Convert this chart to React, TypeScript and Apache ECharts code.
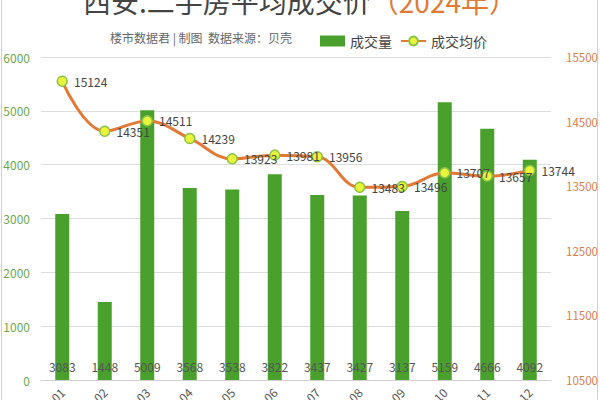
import React, { useEffect, useRef } from "react";
import * as echarts from "echarts";

const months = ["2024-01","2024-02","2024-03","2024-04","2024-05","2024-06","2024-07","2024-08","2024-09","2024-10","2024-11","2024-12"];
const volume = [3083, 1448, 5009, 3568, 3538, 3822, 3437, 3427, 3137, 5159, 4666, 4092];
const avgPrice = [15124, 14351, 14511, 14239, 13923, 13981, 13956, 13483, 13496, 13707, 13657, 13744];

const FONT = "'Noto Sans CJK SC', 'Noto Sans', sans-serif";

export default function App() {
  const ref = useRef<HTMLDivElement>(null);
  useEffect(() => {
    const chart = echarts.init(ref.current!, null, { renderer: "svg" });
    chart.setOption({
      animation: false,
      backgroundColor: "#fff",
      textStyle: { fontFamily: FONT },
      graphic: [
        { type: "rect", shape: { x: 1.5, y: -5, width: 596, height: 410 }, style: { fill: "none", stroke: "#d0d0d0", lineWidth: 1 }, silent: true },
        {
          type: "text", x: 300, y: -13,
          style: {
            text: "{a|西安.二手房平均成交价}{b|（2024年）}",
            align: "center", verticalAlign: "top",
            rich: {
              a: { fontSize: 28, fill: "#444", fontFamily: FONT },
              b: { fontSize: 28, fill: "#e07a36", fontFamily: FONT },
            },
          },
        },
        {
          type: "text", x: 110, y: 31,
          style: { text: "楼市数据君 | 制图  数据来源：贝壳", fontSize: 12, fill: "#666", fontFamily: FONT },
        },
      ],
      legend: {
        top: 29, left: 315, itemGap: 8, itemWidth: 25, itemHeight: 11,
        textStyle: { fontSize: 14, color: "#444", fontFamily: FONT },
        data: [
          { name: "成交量", icon: "rect" },
          { name: "成交均价" },
        ],
      },
      grid: { left: 41, right: 49, top: 57, bottom: 20, outerBoundsMode: "none", containLabel: false },
      xAxis: {
        type: "category",
        data: months,
        axisLine: { lineStyle: { color: "#d0d0d0" } },
        axisTick: { lineStyle: { color: "#d0d0d0" } },
        axisLabel: { rotate: 45, color: "#555", fontSize: 12, margin: 10 },
      },
      yAxis: [
        {
          type: "value", min: 0, max: 6000, interval: 1000,
          axisLabel: { color: "#6aa84f", fontSize: 12, margin: 11, formatter: (v: number) => String(v) },
          splitLine: { lineStyle: { color: "#dedede" } },
        },
        {
          type: "value", min: 10500, max: 15500, interval: 1000,
          axisLabel: { color: "#d9804a", fontSize: 11.5, margin: 15, formatter: (v: number) => String(v) },
          splitLine: { show: false },
        },
      ],
      series: [
        {
          name: "成交量", type: "bar", data: volume, barWidth: 14,
          itemStyle: { color: "#4aa02c" },
          label: { show: true, position: "insideBottom", distance: 8, color: "#555", fontSize: 12 },
        },
        {
          name: "成交均价", type: "line", yAxisIndex: 1, data: avgPrice, smooth: 0.4,
          symbol: "circle", symbolSize: 10,
          lineStyle: { color: "#e07a36", width: 3 },
          itemStyle: { color: "#e8f53a", borderColor: "#8bc34a", borderWidth: 1.5 },
          label: { show: true, position: "right", distance: 6, color: "#444", fontSize: 12 },
          z: 5,
        },
      ],
    });
    return () => chart.dispose();
  }, []);
  return <div ref={ref} style={{ width: 600, height: 400, position: "absolute", left: 0, top: 0 }} />;
}
